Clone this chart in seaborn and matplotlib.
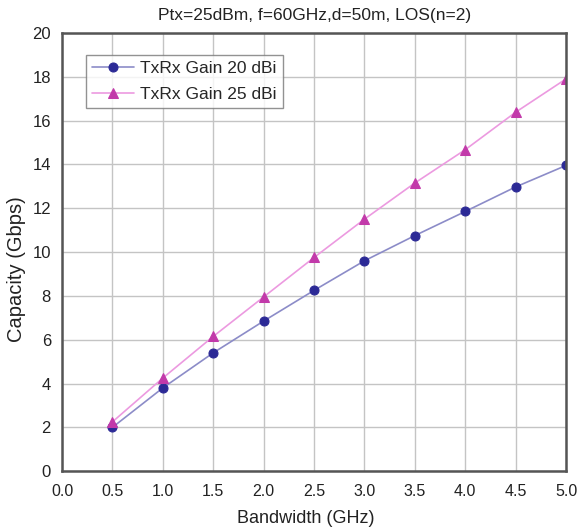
import matplotlib
matplotlib.use("Agg")
import matplotlib.pyplot as plt
import seaborn as sns
import pandas as pd

# Bandwidth (GHz) and achievable capacity (Gbps) for two antenna gains
bandwidth = [0.5, 1.0, 1.5, 2.0, 2.5, 3.0, 3.5, 4.0, 4.5, 5.0]
cap_gain20 = [2.0, 3.8, 5.4, 6.85, 8.25, 9.6, 10.75, 11.85, 12.97, 13.95]
cap_gain25 = [2.25, 4.25, 6.15, 7.95, 9.75, 11.5, 13.15, 14.67, 16.38, 17.9]
labels = ["TxRx Gain 20 dBi", "TxRx Gain 25 dBi"]
xticks = [0.0, 0.5, 1.0, 1.5, 2.0, 2.5, 3.0, 3.5, 4.0, 4.5, 5.0]
yticks = [0, 2, 4, 6, 8, 10, 12, 14, 16, 18, 20]

sns.set_theme(style="white")
plt.rcParams["font.family"] = ["Liberation Sans", "DejaVu Sans"]

df20 = pd.DataFrame({"bw": bandwidth, "cap": cap_gain20})
df25 = pd.DataFrame({"bw": bandwidth, "cap": cap_gain25})

fig = plt.figure(figsize=(5.8, 5.3), dpi=100)
ax = fig.add_axes([0.107, 0.111, 0.869, 0.827])

sns.lineplot(data=df20, x="bw", y="cap", ax=ax, color="#8c8cc8", lw=1.2,
             marker="o", markersize=6.5, markerfacecolor="#2c2a96",
             markeredgecolor="#2c2a96", label=labels[0])
sns.lineplot(data=df25, x="bw", y="cap", ax=ax, color="#ec9ae0", lw=1.2,
             marker="^", markersize=7.5, markerfacecolor="#c23aaa",
             markeredgecolor="#c23aaa", label=labels[1])

ax.set_xlim(0, 5)
ax.set_ylim(0, 20)
ax.set_xticks(xticks)
ax.set_xticklabels([f"{v:.1f}" for v in xticks])
ax.set_yticks(yticks)
ax.set_yticklabels([str(v) for v in yticks])
ax.tick_params(axis="x", length=0, pad=9, labelsize=11.5, labelcolor="#222222")
ax.tick_params(axis="y", length=0, pad=8, labelsize=12, labelcolor="#222222")

ax.grid(True, color="#c4c4c4", lw=1.0)
ax.set_axisbelow(True)
for side in ax.spines.values():
    side.set_visible(True)
    side.set_color("#555555")
    side.set_linewidth(1.8)

ax.set_xlabel("Bandwidth (GHz)", fontsize=13, color="#222222")
ax.xaxis.set_label_coords(0.484, -0.088, transform=ax.transAxes)
ax.set_ylabel("Capacity (Gbps)", fontsize=14.5, color="#222222")
ax.yaxis.set_label_coords(-0.072, 0.461, transform=ax.transAxes)
ax.set_title("Ptx=25dBm, f=60GHz,d=50m, LOS(n=2)", fontsize=12.5,
             color="#222222", pad=9)

leg = ax.legend(loc="upper left", bbox_to_anchor=(0.048, 0.95), fontsize=12.5,
                frameon=True, fancybox=False, handlelength=2.4,
                borderaxespad=0, borderpad=0.35, labelspacing=0.62,
                handletextpad=0.35)
leg.get_frame().set_edgecolor("#777777")
leg.get_frame().set_linewidth(1.0)

fig.savefig("out.png", dpi=100, facecolor="white")
